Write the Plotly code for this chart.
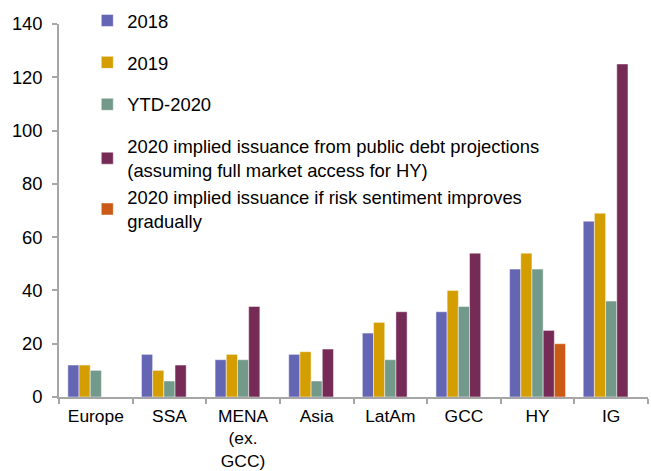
import plotly.graph_objects as go

categories = ["Europe", "SSA", "MENA<br>(ex.<br>GCC)", "Asia", "LatAm", "GCC", "HY", "IG"]

s2018 = [12, 16, 14, 16, 24, 32, 48, 66]
s2019 = [12, 10, 16, 17, 28, 40, 54, 69]
ytd2020 = [10, 6, 14, 6, 14, 34, 48, 36]
implied_full = [None, 12, 34, 18, 32, 54, 25, 125]
implied_gradual = [None, None, None, None, None, None, 20, None]

series_names = [
    "2018",
    "2019",
    "YTD-2020",
    "2020 implied issuance from public debt projections<br>(assuming full market access for HY)",
    "2020 implied issuance if risk sentiment improves<br>gradually",
]
series_values = [s2018, s2019, ytd2020, implied_full, implied_gradual]
colors = ["#6466B4", "#D49D00", "#73998A", "#762B57", "#CC5A17"]
groups = ["g1", "g2", "g3", "g4", "g4"]

y_ticks = [0, 20, 40, 60, 80, 100, 120, 140]

FONT = "Liberation Sans, Arial, sans-serif"

fig = go.Figure()
for name, vals, col, grp in zip(series_names, series_values, colors, groups):
    fig.add_trace(go.Bar(
        x=categories, y=vals, name=name,
        marker=dict(color=col, line=dict(color="rgba(255,255,255,0.6)", width=0.8)),
        legendgroup=grp,
    ))

fig.update_layout(
    width=651, height=471,
    margin=dict(l=59, r=3, t=24, b=74, autoexpand=False),
    paper_bgcolor="white", plot_bgcolor="white",
    barmode="group", bargap=0.24, bargroupgap=0,
    font=dict(family=FONT, size=18, color="#000000"),
    legend=dict(
        x=0.048, y=1.059, xanchor="left", yanchor="top",
        traceorder="grouped", tracegroupgap=15,
        bgcolor="rgba(0,0,0,0)", maxheight=460,
        font=dict(family=FONT, size=18.4, color="#000000"),
    ),
    showlegend=True,
)
fig.update_xaxes(
    type="category", showline=True, linecolor="#a6a6a6", linewidth=1.5,
    ticks="outside", tickson="boundaries", ticklen=5, tickcolor="#a6a6a6", tickwidth=1.5,
    showgrid=False, tickfont=dict(size=17.4), ticklabelstandoff=2, automargin=False,
)
fig.update_yaxes(
    range=[0, 140], tickvals=y_ticks, showline=True, linecolor="#a6a6a6", linewidth=1.5,
    ticks="outside", ticklen=5, tickcolor="#a6a6a6", tickwidth=1.5,
    showgrid=False, zeroline=False, tickfont=dict(size=18.4), ticklabelstandoff=6,
    automargin=False,
)

fig.write_html("out.html")
